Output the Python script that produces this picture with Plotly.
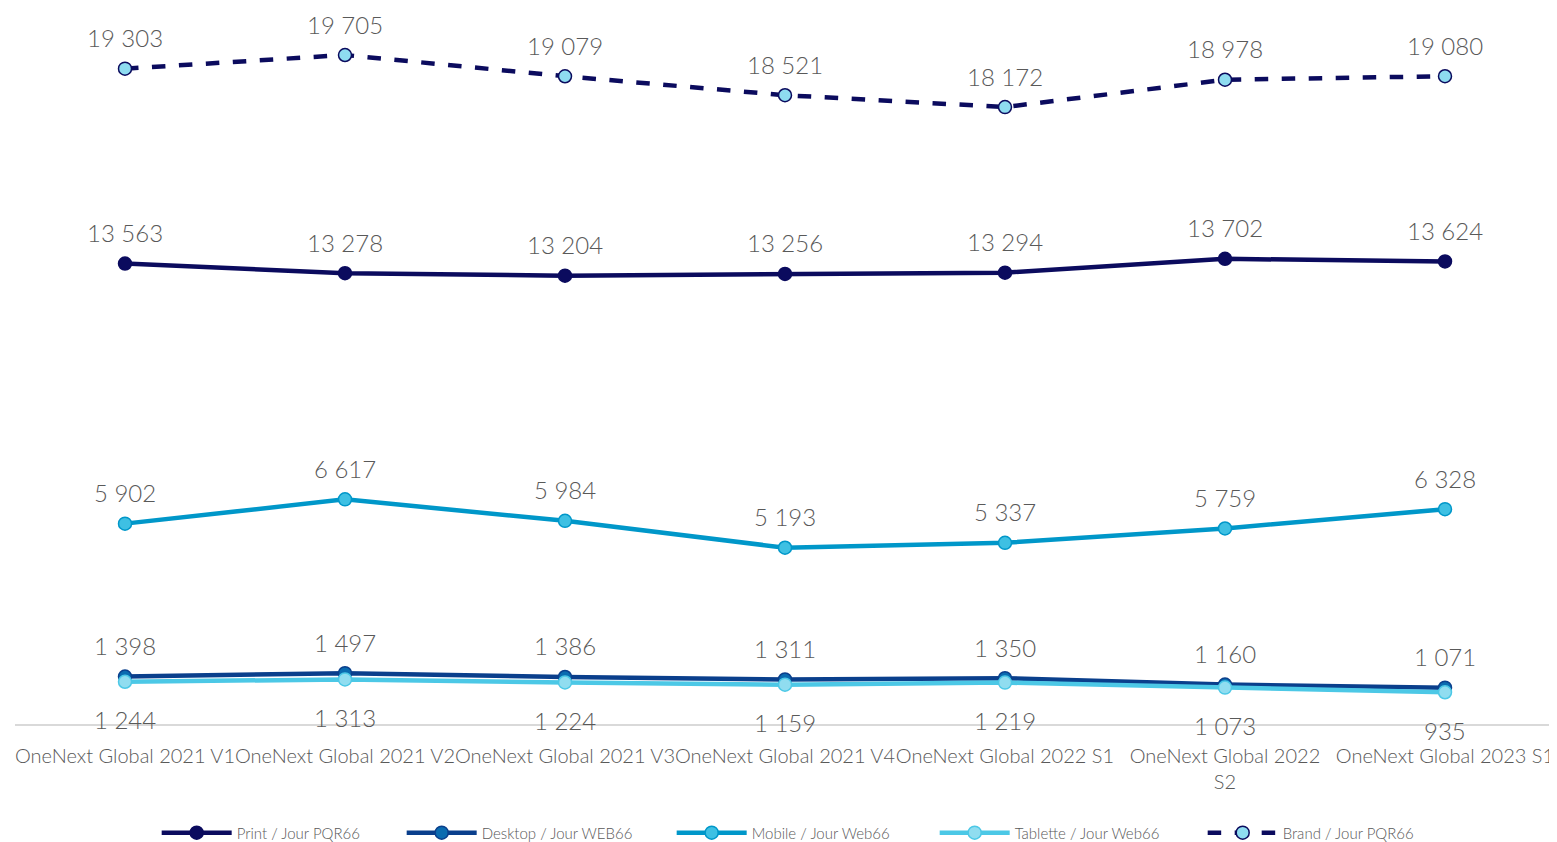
import plotly.graph_objects as go

categories = ["OneNext Global 2021 V1", "OneNext Global 2021 V2", "OneNext Global 2021 V3",
              "OneNext Global 2021 V4", "OneNext Global 2022 S1", "OneNext Global 2022<br>S2",
              "OneNext Global 2023 S1"]
print_vals = [13563, 13278, 13204, 13256, 13294, 13702, 13624]
desktop_vals = [1398, 1497, 1386, 1311, 1350, 1160, 1071]
mobile_vals = [5902, 6617, 5984, 5193, 5337, 5759, 6328]
tablet_vals = [1244, 1313, 1224, 1159, 1219, 1073, 935]
brand_vals = [19303, 19705, 19079, 18521, 18172, 18978, 19080]

series = [
    dict(name="Print / Jour PQR66", y=print_vals, color="#0B0B5E", mfill="#0B0B5E", mline="#0B0B5E", dash="solid", pos="top", lw=160),
    dict(name="Desktop / Jour WEB66", y=desktop_vals, color="#0A3F8C", mfill="#0A6BB0", mline="#0A3F8C", dash="solid", pos="top", lw=185),
    dict(name="Mobile / Jour Web66", y=mobile_vals, color="#0097C9", mfill="#3EC0E3", mline="#0097C9", dash="solid", pos="top", lw=178),
    dict(name="Tablette / Jour Web66", y=tablet_vals, color="#4CC8E6", mfill="#90DDF0", mline="#4CC8E6", dash="solid", pos="bottom", lw=183),
    dict(name="Brand / Jour PQR66", y=brand_vals, color="#0B0B5E", mfill="#8EDCF0", mline="#0B0B5E", dash="dash", pos="top", lw=160),
]

FONT = "Lato Light, Lato, Open Sans"
xs = list(range(len(categories)))
fig = go.Figure()
annotations = []
for s in series:
    fig.add_trace(go.Scatter(
        x=xs, y=s["y"], name=s["name"], mode="lines+markers",
        line=dict(color=s["color"], width=4.5, dash=s["dash"]),
        marker=dict(size=13, color=s["mfill"], line=dict(color=s["mline"], width=1.5)),
        legendwidth=s["lw"],
    ))
    for x, v in zip(xs, s["y"]):
        annotations.append(dict(
            x=x, y=v, xref="x", yref="y", showarrow=False,
            text=f"{v:,}".replace(",", " "),
            yshift=31 if s["pos"] == "top" else -38,
            yanchor="middle", xanchor="center", borderpad=0,
            font=dict(size=24, color="#595959", family=FONT),
        ))

fig.update_layout(
    width=1549, height=834,
    margin=dict(l=7, r=2, t=4, b=118, autoexpand=False),
    plot_bgcolor="white", paper_bgcolor="white",
    font=dict(family=FONT, color="#595959"),
    annotations=annotations,
    showlegend=True,
    legend=dict(orientation="h", x=0.092, xanchor="left", y=-0.153, yanchor="middle",
                font=dict(size=15, color="#595959", family=FONT), itemwidth=70),
    xaxis=dict(tickmode="array", tickvals=xs, ticktext=categories, range=[-0.5, 6.5],
               showgrid=False, zeroline=False, showline=True, linecolor="#D9D9D9", linewidth=1.5,
               ticks="", tickangle=0, automargin=False,
               tickfont=dict(size=20, color="#595959", family=FONT), ticklabelstandoff=13),
    yaxis=dict(range=[0, 20972], showgrid=False, zeroline=False, showticklabels=False,
               showline=False, automargin=False),
)

fig.write_html("out.html")
